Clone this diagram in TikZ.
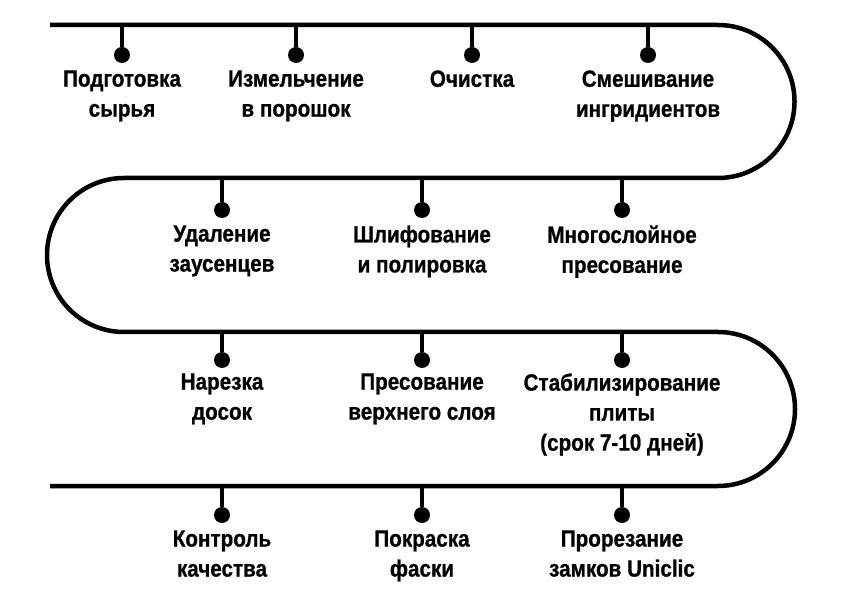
\documentclass[tikz,border=0pt]{standalone}
\usepackage{fontspec}
\setmainfont{Liberation Sans}[FakeStretch=0.88, BoldFeatures={FakeBold=0.8}]
\usetikzlibrary{positioning}
\tikzset{
	track/.style={line width=4.5pt, line join=round},
	stem/.style={line width=4.5pt},
	dot/.style={circle, fill=black, minimum size=16pt, inner sep=0pt},
	lbl/.style={align=center, inner sep=0pt, font=\fontsize{23.5}{30}\selectfont\bfseries}
}

\begin{document}
\begin{tikzpicture}[x=1pt, y=1pt]
		%%%%% START %%%%%
		\useasboundingbox (0, 0) rectangle (842, 600);
		
		% serpentine line
		\draw[track] (50, 575) -- (718, 575) arc (90:-90:76.5)
			-- (124, 422) arc (90:270:77)
			-- (718, 268) arc (90:-90:77)
			-- (50, 114);
		
		% row 1
		\coordinate (s1) at (122, 575);
		\coordinate (s2) at (296, 575);
		\coordinate (s3) at (472, 575);
		\coordinate (s4) at (648, 575);
		\node[dot] (d1) at (122, 545) {};
		\node[dot] (d2) at (296, 545) {};
		\node[dot] (d3) at (472, 545) {};
		\node[dot] (d4) at (648, 545) {};
		
		% row 2
		\coordinate (s5) at (222, 422);
		\coordinate (s6) at (422, 422);
		\coordinate (s7) at (622, 422);
		\node[dot] (d5) at (222, 390) {};
		\node[dot] (d6) at (422, 390) {};
		\node[dot] (d7) at (622, 390) {};
		
		% row 3
		\coordinate (s8) at (222, 268);
		\coordinate (s9) at (422, 268);
		\coordinate (s10) at (622, 268);
		\node[dot] (d8) at (222, 240) {};
		\node[dot] (d9) at (422, 240) {};
		\node[dot] (d10) at (622, 240) {};
		
		% row 4
		\coordinate (s11) at (222, 114);
		\coordinate (s12) at (422, 114);
		\coordinate (s13) at (622, 114);
		\node[dot] (d11) at (222, 85) {};
		\node[dot] (d12) at (422, 85) {};
		\node[dot] (d13) at (622, 85) {};
		
		\foreach \i in {1,...,13}
			\draw[stem] (s\i) -- (d\i);
		
		% labels
		\node[lbl, below=7pt of d1] (t1) {Подготовка\\сырья};
		\node[lbl, below=7pt of d2] (t2) {Измельчение\\в порошок};
		\node[lbl, below=7pt of d3] (t3) {Очистка};
		\node[lbl, below=7pt of d4] (t4) {Смешивание\\ингридиентов};
		
		\node[lbl, below=7pt of d5] (t5) {Удаление\\заусенцев};
		\node[lbl, below=7pt of d6] (t6) {Шлифование\\и полировка};
		\node[lbl, below=7pt of d7] (t7) {Многослойное\\пресование};
		
		\node[lbl, below=5pt of d8] (t8) {Нарезка\\досок};
		\node[lbl, below=5pt of d9] (t9) {Пресование\\верхнего слоя};
		\node[lbl, below=5pt of d10] (t10) {Стабилизирование\\плиты\\(срок 7-10 дней)};
		
		\node[lbl, below=7pt of d11] (t11) {Контроль\\качества};
		\node[lbl, below=7pt of d12] (t12) {Покраска\\фаски};
		\node[lbl, below=7pt of d13] (t13) {Прорезание\\замков Uniclic};
		%%%%% END %%%%%
	\end{tikzpicture}
\end{document}
